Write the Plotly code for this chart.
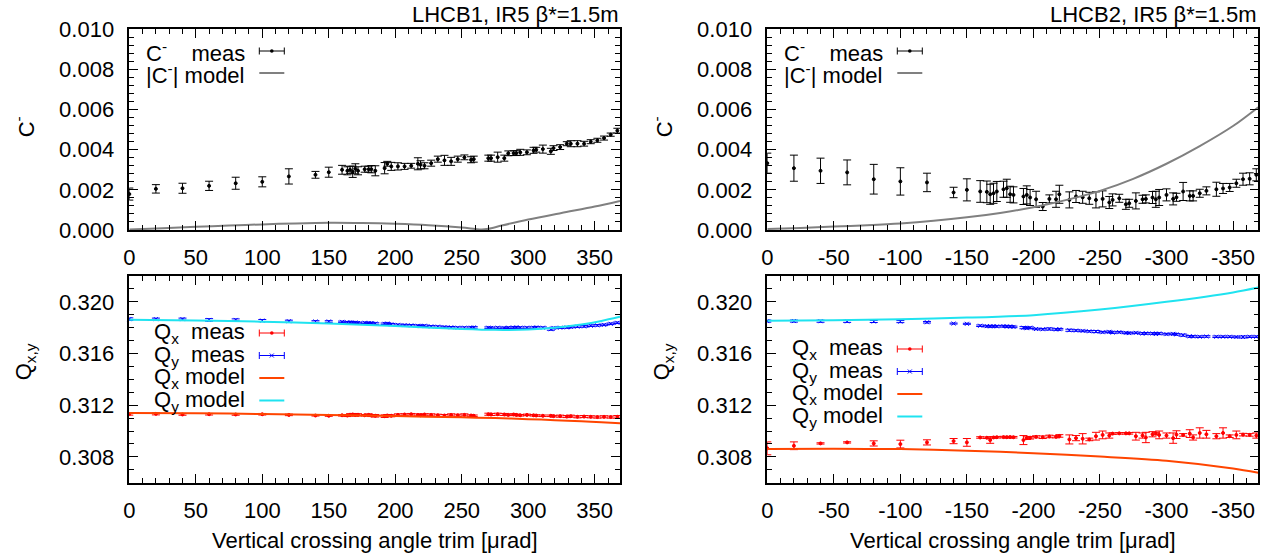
import plotly.graph_objects as go

W, H = 1269, 557

# ---------------- data: beam 1 ----------------
x_b1 = [0, 20, 40, 60, 80, 100, 120, 140, 150, 160,
        164, 166, 168, 170, 172, 177, 180, 182, 185, 192,
        194, 197, 202, 207, 212, 217, 219, 222, 227, 232,
        237, 242, 247, 252, 257, 259, 270, 272, 277, 282,
        285, 289, 291, 294, 299, 304, 306, 311, 317, 319,
        324, 329, 332, 337, 342, 347, 352, 357, 362, 367]
cminus_b1 = [0.00179, 0.00205, 0.00208, 0.00220, 0.00233, 0.00240, 0.00267, 0.00275, 0.00288, 0.00300,
             0.00295, 0.00300, 0.00290, 0.00305, 0.00295, 0.00303, 0.00303, 0.00303, 0.00295, 0.00308,
             0.00330, 0.00317, 0.00317, 0.00317, 0.00320, 0.00330, 0.00325, 0.00320, 0.00333, 0.00353,
             0.00347, 0.00342, 0.00353, 0.00362, 0.00350, 0.00353, 0.00358, 0.00358, 0.00363, 0.00358,
             0.00382, 0.00383, 0.00383, 0.00387, 0.00387, 0.00397, 0.00400, 0.00403, 0.00392, 0.00408,
             0.00413, 0.00430, 0.00430, 0.00430, 0.00430, 0.00440, 0.00447, 0.00458, 0.00475, 0.00495]
cminus_err_b1 = [0.00030, 0.00021, 0.00025, 0.00023, 0.00030, 0.00025, 0.00038, 0.00017, 0.00025, 0.00022,
                 0.00020, 0.00018, 0.00028, 0.00025, 0.00020, 0.00015, 0.00015, 0.00018, 0.00025, 0.00028,
                 0.00012, 0.00020, 0.00018, 0.00015, 0.00012, 0.00030, 0.00020, 0.00015, 0.00015, 0.00015,
                 0.00025, 0.00020, 0.00015, 0.00012, 0.00015, 0.00015, 0.00015, 0.00015, 0.00025, 0.00015,
                 0.00012, 0.00012, 0.00012, 0.00015, 0.00012, 0.00015, 0.00012, 0.00020, 0.00015, 0.00012,
                 0.00012, 0.00010, 0.00015, 0.00015, 0.00012, 0.00010, 0.00010, 0.00010, 0.00008, 0.00012]
qy_b1 = [0.31866, 0.31866, 0.31866, 0.31860, 0.31860, 0.31855, 0.31850, 0.31848, 0.31848, 0.31845,
         0.31840, 0.31842, 0.31838, 0.31840, 0.31836, 0.31838, 0.31835, 0.31836, 0.31832, 0.31830,
         0.31832, 0.31826, 0.31822, 0.31820, 0.31818, 0.31815, 0.31812, 0.31815, 0.31810, 0.31808,
         0.31805, 0.31803, 0.31800, 0.31800, 0.31800, 0.31802, 0.31800, 0.31798, 0.31800, 0.31798,
         0.31800, 0.31800, 0.31802, 0.31800, 0.31800, 0.31800, 0.31802, 0.31800, 0.31788, 0.31798,
         0.31800, 0.31802, 0.31805, 0.31808, 0.31810, 0.31815, 0.31818, 0.31822, 0.31830, 0.31838]
qy_err_b1 = [0.00010, 0.00008, 0.00008, 0.00010, 0.00008, 0.00008, 0.00008, 0.00006, 0.00006, 0.00006,
             0.00006, 0.00006, 0.00006, 0.00006, 0.00006, 0.00006, 0.00006, 0.00006, 0.00006, 0.00006,
             0.00006, 0.00006, 0.00006, 0.00006, 0.00006, 0.00006, 0.00006, 0.00006, 0.00006, 0.00006,
             0.00006, 0.00006, 0.00006, 0.00006, 0.00006, 0.00006, 0.00006, 0.00006, 0.00006, 0.00006,
             0.00006, 0.00006, 0.00006, 0.00006, 0.00006, 0.00006, 0.00006, 0.00006, 0.00008, 0.00006,
             0.00006, 0.00006, 0.00006, 0.00006, 0.00006, 0.00006, 0.00006, 0.00006, 0.00006, 0.00006]
qx_b1 = [0.31131, 0.31133, 0.31128, 0.31130, 0.31128, 0.31130, 0.31125, 0.31120, 0.31118, 0.31122,
         0.31120, 0.31126, 0.31128, 0.31124, 0.31126, 0.31122, 0.31125, 0.31120, 0.31118, 0.31115,
         0.31120, 0.31118, 0.31125, 0.31128, 0.31130, 0.31125, 0.31122, 0.31128, 0.31125, 0.31122,
         0.31120, 0.31125, 0.31122, 0.31125, 0.31120, 0.31118, 0.31130, 0.31128, 0.31130, 0.31128,
         0.31125, 0.31128, 0.31125, 0.31122, 0.31125, 0.31122, 0.31120, 0.31118, 0.31118, 0.31115,
         0.31115, 0.31112, 0.31115, 0.31110, 0.31112, 0.31110, 0.31108, 0.31110, 0.31108, 0.31110]
qx_err_b1 = [0.00008, 0.00008, 0.00006, 0.00006, 0.00006, 0.00006, 0.00006, 0.00004, 0.00004, 0.00006,
             0.00008, 0.00008, 0.00008, 0.00008, 0.00008, 0.00006, 0.00008, 0.00008, 0.00010, 0.00010,
             0.00008, 0.00008, 0.00008, 0.00006, 0.00006, 0.00008, 0.00006, 0.00006, 0.00008, 0.00008,
             0.00008, 0.00008, 0.00008, 0.00008, 0.00006, 0.00006, 0.00008, 0.00008, 0.00008, 0.00008,
             0.00006, 0.00006, 0.00006, 0.00006, 0.00006, 0.00006, 0.00006, 0.00006, 0.00006, 0.00006,
             0.00008, 0.00008, 0.00008, 0.00008, 0.00008, 0.00008, 0.00008, 0.00008, 0.00008, 0.00010]

model_x_b1 = [0, 25, 50, 75, 100, 125, 150, 175, 200, 225, 250, 260, 265, 270, 280, 300, 325, 350, 369]
model_c_b1 = [0.00002, 0.00009, 0.00016, 0.00022, 0.00028, 0.00033, 0.00036, 0.00035, 0.00031, 0.00024,
              0.00012, 0.00005, 0.00002, 0.00006, 0.00022, 0.00052, 0.00085, 0.00117, 0.00145]
model_qx_b1_x = [0, 50, 100, 150, 200, 250, 275, 300, 320, 340, 355, 369]
model_qy_b1 = [0.31862, 0.31856, 0.31846, 0.31832, 0.31812, 0.31790, 0.31783, 0.31786, 0.31800, 0.31825, 0.31852, 0.31884]
model_qx_b1 = [0.31140, 0.31137, 0.31132, 0.31125, 0.31116, 0.31106, 0.31100, 0.31092, 0.31084, 0.31075, 0.31068, 0.31060]

# ---------------- data: beam 2 ----------------
x_b2 = [0, -20, -40, -60, -80, -100, -120, -140, -150, -160,
        -165, -167.5, -170, -172.5, -177.5, -180, -182.5, -185, -192.5, -195,
        -197.5, -202, -207, -212, -217, -219.5, -227, -232, -237, -242,
        -247, -252, -257, -259.5, -264.5, -269.5, -272, -277, -282, -284.5,
        -289.5, -292, -294.5, -300, -305, -307.5, -312.5, -317.5, -320, -325,
        -330, -337.5, -342.5, -347.5, -352.5, -357.5, -362.5, -367.5]
cminus_b2 = [0.00333, 0.00308, 0.00295, 0.00287, 0.00253, 0.00242, 0.00237, 0.00187, 0.00200, 0.00192,
             0.00190, 0.00178, 0.00183, 0.00192, 0.00203, 0.00208, 0.00178, 0.00175, 0.00167, 0.00175,
             0.00162, 0.00153, 0.00117, 0.00155, 0.00153, 0.00178, 0.00150, 0.00167, 0.00163, 0.00158,
             0.00150, 0.00155, 0.00137, 0.00150, 0.00158, 0.00128, 0.00133, 0.00145, 0.00153, 0.00155,
             0.00162, 0.00153, 0.00162, 0.00175, 0.00155, 0.00163, 0.00192, 0.00170, 0.00170, 0.00183,
             0.00195, 0.00203, 0.00207, 0.00212, 0.00233, 0.00253, 0.00255, 0.00275]
cminus_err_b2 = [0.00050, 0.00065, 0.00063, 0.00062, 0.00074, 0.00068, 0.00046, 0.00026, 0.00055, 0.00054,
                 0.00054, 0.00050, 0.00050, 0.00050, 0.00040, 0.00045, 0.00040, 0.00040, 0.00040, 0.00045,
                 0.00040, 0.00040, 0.00020, 0.00020, 0.00040, 0.00045, 0.00040, 0.00030, 0.00030, 0.00030,
                 0.00040, 0.00040, 0.00030, 0.00030, 0.00020, 0.00025, 0.00020, 0.00040, 0.00020, 0.00020,
                 0.00030, 0.00040, 0.00040, 0.00030, 0.00030, 0.00020, 0.00045, 0.00025, 0.00025, 0.00020,
                 0.00020, 0.00035, 0.00025, 0.00020, 0.00020, 0.00030, 0.00030, 0.00030]
qy_b2 = [0.31851, 0.31851, 0.31850, 0.31849, 0.31848, 0.31847, 0.31842, 0.31832, 0.31830, 0.31815,
         0.31812, 0.31810, 0.31812, 0.31810, 0.31812, 0.31808, 0.31810, 0.31806, 0.31800, 0.31796,
         0.31800, 0.31790, 0.31788, 0.31790, 0.31786, 0.31788, 0.31780, 0.31778, 0.31775, 0.31772,
         0.31770, 0.31765, 0.31768, 0.31762, 0.31765, 0.31760, 0.31758, 0.31760, 0.31755, 0.31756,
         0.31755, 0.31752, 0.31755, 0.31750, 0.31752, 0.31748, 0.31742, 0.31733, 0.31732, 0.31730,
         0.31732, 0.31730, 0.31730, 0.31730, 0.31728, 0.31728, 0.31730, 0.31730]
qy_err_b2 = [0.00008, 0.00008, 0.00008, 0.00008, 0.00008, 0.00008, 0.00006, 0.00004, 0.00004, 0.00006,
             0.00006, 0.00006, 0.00006, 0.00006, 0.00006, 0.00006, 0.00006, 0.00006, 0.00008, 0.00006,
             0.00006, 0.00006, 0.00006, 0.00008, 0.00006, 0.00006, 0.00008, 0.00006, 0.00006, 0.00006,
             0.00008, 0.00006, 0.00006, 0.00006, 0.00006, 0.00006, 0.00006, 0.00006, 0.00006, 0.00006,
             0.00006, 0.00006, 0.00006, 0.00006, 0.00006, 0.00006, 0.00008, 0.00006, 0.00006, 0.00006,
             0.00006, 0.00006, 0.00006, 0.00006, 0.00006, 0.00008, 0.00006, 0.00006]
qx_b2 = [0.30866, 0.30886, 0.30904, 0.30912, 0.30904, 0.30899, 0.30912, 0.30922, 0.30912, 0.30950,
         0.30948, 0.30930, 0.30950, 0.30952, 0.30953, 0.30952, 0.30953, 0.30952, 0.30930, 0.30945,
         0.30948, 0.30955, 0.30952, 0.30958, 0.30955, 0.30962, 0.30935, 0.30945, 0.30940, 0.30935,
         0.30960, 0.30970, 0.30965, 0.30980, 0.30982, 0.30982, 0.30982, 0.30960, 0.30965, 0.30950,
         0.30975, 0.30980, 0.30970, 0.30965, 0.30945, 0.30972, 0.30970, 0.30980, 0.30950, 0.30985,
         0.30975, 0.30960, 0.30985, 0.30960, 0.30970, 0.30972, 0.30970, 0.30965]
qx_err_b2 = [0.00050, 0.00030, 0.00005, 0.00005, 0.00020, 0.00030, 0.00020, 0.00020, 0.00030, 0.00006,
             0.00006, 0.00025, 0.00006, 0.00006, 0.00006, 0.00006, 0.00006, 0.00006, 0.00035, 0.00010,
             0.00010, 0.00008, 0.00010, 0.00010, 0.00008, 0.00010, 0.00035, 0.00020, 0.00040, 0.00010,
             0.00030, 0.00030, 0.00020, 0.00006, 0.00006, 0.00006, 0.00006, 0.00030, 0.00020, 0.00040,
             0.00020, 0.00010, 0.00030, 0.00020, 0.00040, 0.00030, 0.00010, 0.00030, 0.00020, 0.00040,
             0.00030, 0.00020, 0.00040, 0.00010, 0.00030, 0.00010, 0.00010, 0.00020]

model_x_b2 = [0, -25, -50, -75, -100, -125, -150, -175, -200, -225, -250, -275, -300, -325, -350, -369]
model_c_b2 = [0.00005, 0.00010, 0.00017, 0.00024, 0.00033, 0.00046, 0.00063, 0.00085, 0.00113, 0.00150,
              0.00195, 0.00255, 0.00330, 0.00418, 0.00518, 0.00612]
model_q_b2_x = [0, -50, -100, -150, -200, -250, -300, -350, -369]
model_qx_b2 = [0.30860, 0.30862, 0.30860, 0.30848, 0.30828, 0.30802, 0.30770, 0.30710, 0.30677]
model_qy_b2 = [0.31853, 0.31858, 0.31866, 0.31878, 0.31897, 0.31940, 0.32000, 0.32073, 0.32111]

# tick labels
xtick_b1 = [0, 50, 100, 150, 200, 250, 300, 350]
xtick_b1_text = ["0", "50", "100", "150", "200", "250", "300", "350"]
xtick_b2 = [0, -50, -100, -150, -200, -250, -300, -350]
xtick_b2_text = ["0", "-50", "-100", "-150", "-200", "-250", "-300", "-350"]

titles = ["LHCB1, IR5 \u03b2*=1.5m", "LHCB2, IR5 \u03b2*=1.5m"]
xlabel = "Vertical crossing angle trim [\u03bcrad]"

# ---------------- layout geometry (pixels) ----------------
L1, R1 = 129.3, 620.0
L2, R2 = 767.3, 1258.3
T1, B1 = 29.3, 230.0
T2, B2 = 276.0, 482.7

def px(x):
    return x / W

def py(y):
    return 1 - y / H

FONT = "Liberation Sans, Arial, Helvetica, sans-serif"
FS = 22
BLACK = "#000000"
GREY = "#808080"
RED = "#ff0000"
BLUE = "#0000ff"
ORANGE = "#ff4500"
CYAN = "#1fe3f0"
NB = "\u00a0"

fig = go.Figure()

def meas(x, y, e, color, xa, ya, symbol="circle", size=3):
    fig.add_trace(go.Scatter(
        x=x, y=y, mode="markers", xaxis=xa, yaxis=ya, showlegend=False, cliponaxis=False,
        marker=dict(color=color, size=size, symbol=symbol, line=dict(width=1, color=color)),
        error_y=dict(type="data", array=e, visible=True, color=color, thickness=1, width=4)))

def model(x, y, color, xa, ya):
    fig.add_trace(go.Scatter(
        x=x, y=y, mode="lines", xaxis=xa, yaxis=ya, showlegend=False,
        line=dict(color=color, width=2, shape="spline", smoothing=0.8)))

# top-left
meas(x_b1, cminus_b1, cminus_err_b1, BLACK, "x", "y")
model(model_x_b1, model_c_b1, GREY, "x", "y")
# top-right
meas(x_b2, cminus_b2, cminus_err_b2, BLACK, "x2", "y2")
model(model_x_b2, model_c_b2, GREY, "x2", "y2")
# bottom-left
meas(x_b1, qx_b1, qx_err_b1, RED, "x3", "y3")
meas(x_b1, qy_b1, qy_err_b1, BLUE, "x3", "y3", symbol="x-thin", size=4)
model(model_qx_b1_x, model_qx_b1, ORANGE, "x3", "y3")
model(model_qx_b1_x, model_qy_b1, CYAN, "x3", "y3")
# bottom-right
meas(x_b2, qx_b2, qx_err_b2, RED, "x4", "y4")
meas(x_b2, qy_b2, qy_err_b2, BLUE, "x4", "y4", symbol="x-thin", size=4)
model(model_q_b2_x, model_qx_b2, ORANGE, "x4", "y4")
model(model_q_b2_x, model_qy_b2, CYAN, "x4", "y4")

common = dict(showline=True, linecolor=BLACK, linewidth=1.5, mirror="allticks",
              ticks="inside", ticklen=9, tickwidth=1, tickcolor=BLACK,
              showgrid=False, zeroline=False, automargin=False,
              tickfont=dict(family=FONT, size=FS, color=BLACK))

def xax(l, r, anchor, rng, tv, tt):
    d = dict(common)
    d.update(domain=[px(l), px(r)], anchor=anchor, range=rng,
             tickmode="array", tickvals=tv, ticktext=tt,
             minor=dict(ticks="inside", ticklen=5, dtick=10, tick0=0, tickwidth=1, tickcolor=BLACK),
             ticklabelstandoff=7)
    return d

def yax(t, b, anchor, rng, dtick, mdtick, fmt, tick0=0):
    d = dict(common)
    d.update(domain=[py(b), py(t)], anchor=anchor, range=rng, tick0=tick0, dtick=dtick,
             tickformat=fmt,
             minor=dict(ticks="inside", ticklen=5, dtick=mdtick, tickwidth=1, tickcolor=BLACK),
             ticklabelstandoff=9)
    return d

fig.update_layout(
    template="none",
    width=W, height=H, margin=dict(l=0, r=0, t=0, b=0, pad=0), autosize=False,
    paper_bgcolor="white", plot_bgcolor="white", showlegend=False,
    font=dict(family=FONT, size=FS, color=BLACK),
    xaxis=xax(L1, R1, "y", [0, 369], xtick_b1, xtick_b1_text),
    yaxis=yax(T1, B1, "x", [0, 0.010], 0.002, 0.0004, ".3f"),
    xaxis2=xax(L2, R2, "y2", [0, -369], xtick_b2, xtick_b2_text),
    yaxis2=yax(T1, B1, "x2", [0, 0.010], 0.002, 0.0004, ".3f"),
    xaxis3=xax(L1, R1, "y3", [0, 369], xtick_b1, xtick_b1_text),
    yaxis3=yax(T2, B2, "x3", [0.306, 0.322], 0.004, 0.001, ".3f", tick0=0.308),
    xaxis4=xax(L2, R2, "y4", [0, -369], xtick_b2, xtick_b2_text),
    yaxis4=yax(T2, B2, "x4", [0.306, 0.322], 0.004, 0.001, ".3f", tick0=0.308),
)

ann = []
shapes = []

def text(x, y, s, xanchor="center", angle=0):
    ann.append(dict(x=px(x), y=py(y), xref="paper", yref="paper", text=s, showarrow=False,
                    xanchor=xanchor, yanchor="middle", textangle=angle,
                    font=dict(family=FONT, size=FS, color=BLACK)))

def seg(x0, y0, x1, y1, color, width=1):
    shapes.append(dict(type="line", xref="paper", yref="paper",
                       x0=px(x0), y0=py(y0), x1=px(x1), y1=py(y1),
                       line=dict(color=color, width=width)))

def sample_err(x0, x1, y, color, cross=False):
    seg(x0, y, x1, y, color)
    seg(x0, y - 3.5, x0, y + 3.5, color)
    seg(x1, y - 3.5, x1, y + 3.5, color)
    xc = (x0 + x1) / 2
    if cross:
        seg(xc - 2, y - 2, xc + 2, y + 2, color)
        seg(xc - 2, y + 2, xc + 2, y - 2, color)
    else:
        shapes.append(dict(type="circle", xref="paper", yref="paper",
                           x0=px(xc - 1.8), y0=py(y + 1.8), x1=px(xc + 1.8), y1=py(y - 1.8),
                           fillcolor=color, line=dict(color=color, width=0)))

def sample_line(x0, x1, y, color):
    seg(x0, y, x1, y, color, width=2)

# titles
text(R1, 14, titles[0], xanchor="right")
text(R2, 14, titles[1], xanchor="right")
# x-axis titles
text((L1 + R1) / 2, 540, xlabel)
text((L2 + R2) / 2, 540, xlabel)
# y-axis titles
for L in (L1, L2):
    text(L - 105, 127, "C<sup>-</sup>", angle=-90)
    text(L - 104, 362, "Q<sub>x,y</sub>", angle=-90)

# legends, top panels
for L in (L1, L2):
    text(L + 118, 52, "C<sup>-</sup>" + NB * 4 + "meas", xanchor="right")
    text(L + 118, 74, "|C<sup>-</sup>|" + NB + "model", xanchor="right")
    sample_err(L + 130, L + 155, 51, BLACK)
    sample_line(L + 130, L + 155, 73, GREY)

# legends, bottom panels
for L, y0 in ((L1, 333), (L2, 349)):
    rows = [y0, y0 + 22.5, y0 + 45, y0 + 67.5]
    text(L + 118, rows[0], "Q<sub>x</sub>" + NB * 2 + "meas", xanchor="right")
    text(L + 118, rows[1], "Q<sub>y</sub>" + NB * 2 + "meas", xanchor="right")
    text(L + 118, rows[2], "Q<sub>x</sub>" + NB + "model", xanchor="right")
    text(L + 118, rows[3], "Q<sub>y</sub>" + NB + "model", xanchor="right")
    sample_err(L + 130, L + 155, rows[0], RED)
    sample_err(L + 130, L + 155, rows[1], BLUE, cross=True)
    sample_line(L + 130, L + 155, rows[2], ORANGE)
    sample_line(L + 130, L + 155, rows[3], CYAN)

fig.update_layout(annotations=ann, shapes=shapes)

fig.write_html("out.html", config={"displayModeBar": False},
               post_script="document.body.style.margin='0';document.body.style.overflow='hidden';")
